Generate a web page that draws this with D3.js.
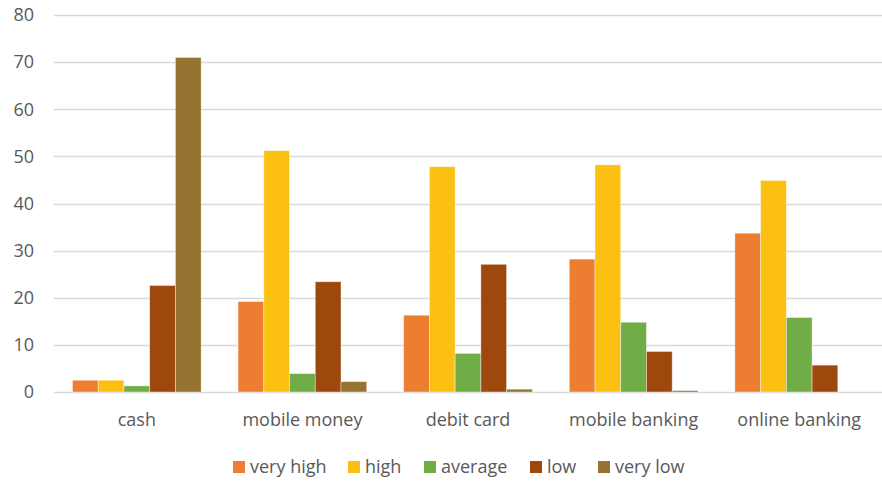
<!DOCTYPE html>
<html>
<head>
<meta charset="utf-8">
<script src="https://cdn.jsdelivr.net/npm/d3@7"></script>
<style>
  html, body { margin: 0; padding: 0; background: #fff; }
  text { font-family: "Open Sans", sans-serif; fill: #595959; }
</style>
</head>
<body>
<div id="chart"></div>
<script>
// categories, series and values
const categories = ["cash", "mobile money", "debit card", "mobile banking", "online banking"];
const seriesNames = ["very high", "high", "average", "low", "very low"];
const veryHigh = [2.5, 19.2, 16.3, 28.2, 33.7];
const high     = [2.5, 51.2, 47.8, 48.2, 44.9];
const average  = [1.3, 3.9, 8.2, 14.8, 15.8];
const low      = [22.6, 23.4, 27.1, 8.6, 5.7];
const veryLow  = [71.0, 2.2, 0.6, 0.3, 0];
const yTicks = [0, 10, 20, 30, 40, 50, 60, 70, 80];

const colors = ["#ED7D31", "#FBC012", "#70AD47", "#9E480E", "#977331"];
const values = [veryHigh, high, average, low, veryLow];

const width = 882, height = 482;
const plot = { top: 15, bottom: 392, left: 54, right: 882 };

const svg = d3.select("#chart").append("svg")
    .attr("width", width)
    .attr("height", height);

const x0 = d3.scaleBand()
    .domain(categories)
    .range([plot.left, plot.right])
    .paddingInner(0.223)
    .paddingOuter(0.1115);

const x1 = d3.scaleBand()
    .domain(seriesNames)
    .range([0, x0.bandwidth()]);

const y = d3.scaleLinear()
    .domain([0, 80])
    .range([plot.bottom, plot.top]);

// gridlines
svg.append("g")
    .selectAll("line")
    .data(yTicks)
    .join("line")
    .attr("x1", plot.left)
    .attr("x2", plot.right)
    .attr("y1", d => Math.round(y(d)) + 0.5)
    .attr("y2", d => Math.round(y(d)) + 0.5)
    .attr("stroke", "#d9d9d9")
    .attr("stroke-width", 1.3);

// y axis labels
const yAxis = svg.append("g")
    .attr("transform", `translate(${plot.left - 20},0)`)
    .call(d3.axisLeft(y).tickValues(yTicks).tickSize(0).tickPadding(0));
yAxis.select(".domain").remove();
yAxis.selectAll("text")
    .style("font-size", "18px")
    .style("font-family", "'Open Sans', sans-serif")
    .attr("fill", "#595959");

// bars
const groups = svg.append("g")
    .selectAll("g")
    .data(categories)
    .join("g")
    .attr("transform", d => `translate(${x0(d)},0)`);

groups.selectAll("rect")
    .data((c, ci) => seriesNames.map((s, si) => ({ s, si, v: values[si][ci] })))
    .join("rect")
    .filter(d => d.v > 0)
    .attr("x", d => x1(d.s))
    .attr("width", x1.bandwidth())
    .attr("y", d => y(d.v))
    .attr("height", d => y(0) - y(d.v))
    .attr("fill", d => colors[d.si])
    .attr("stroke", "#fff")
    .attr("stroke-opacity", 0.5)
    .attr("stroke-width", 0.8);

// x axis labels
const xAxis = svg.append("g")
    .attr("transform", `translate(0,${y(0) + 21})`)
    .call(d3.axisBottom(x0).tickSize(0).tickPadding(0));
xAxis.select(".domain").remove();
xAxis.selectAll("text")
    .style("font-size", "18px")
    .style("font-family", "'Open Sans', sans-serif")
    .attr("fill", "#595959");

// legend
const legendX = [233, 348, 424, 530, 598];
const legend = svg.append("g")
    .selectAll("g")
    .data(seriesNames)
    .join("g")
    .attr("transform", (d, i) => `translate(${legendX[i]},461)`);
legend.append("rect")
    .attr("width", 12)
    .attr("height", 12)
    .attr("fill", (d, i) => colors[i]);
legend.append("text")
    .attr("x", 17)
    .attr("y", 6)
    .attr("dy", "0.35em")
    .style("font-size", "18px")
    .text(d => d);
</script>
</body>
</html>
